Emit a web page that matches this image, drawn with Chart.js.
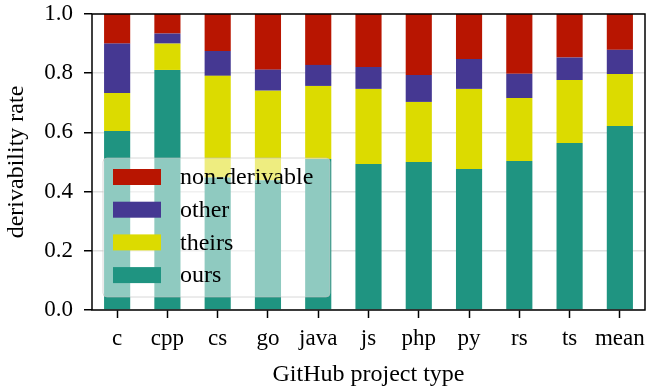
<!DOCTYPE html>
<html>
<head>
<meta charset="utf-8">
<script src="https://cdn.jsdelivr.net/npm/chart.js@4"></script>
<style>
  html, body { margin: 0; padding: 0; background: #ffffff; }
  #wrap { width: 647px; height: 389px; }
</style>
</head>
<body>
<div id="wrap"><canvas id="derivChart" width="647" height="389"></canvas></div>
<script>
// project types and stacked shares (bottom to top: ours, theirs, other, non-derivable)
const categories = ['c', 'cpp', 'cs', 'go', 'java', 'js', 'php', 'py', 'rs', 'ts', 'mean'];
const ours         = [0.605, 0.811, 0.448, 0.438, 0.510, 0.493, 0.500, 0.476, 0.503, 0.564, 0.622];
const theirs       = [0.128, 0.089, 0.343, 0.303, 0.247, 0.254, 0.203, 0.271, 0.213, 0.213, 0.175];
const other        = [0.167, 0.034, 0.084, 0.071, 0.071, 0.074, 0.091, 0.101, 0.082, 0.076, 0.082];
const nonDerivable = [0.100, 0.066, 0.125, 0.188, 0.172, 0.179, 0.206, 0.152, 0.202, 0.147, 0.121];
const yTicks = [0, 0.2, 0.4, 0.6, 0.8, 1.0];

const FONT = "'Liberation Serif', 'DejaVu Serif', serif";

// black box around the plot area (matplotlib spines)
const boxPlugin = {
    id: 'box',
    afterDatasetsDraw(chart) {
        const a = chart.chartArea;
        const ctx = chart.ctx;
        ctx.save();
        ctx.strokeStyle = '#000000';
        ctx.lineWidth = 1.5;
        ctx.strokeRect(a.left, a.top, a.right - a.left, a.bottom - a.top);
        ctx.restore();
    }
};

// legend drawn inside the plot, semi-transparent, reversed order
const legendPlugin = {
    id: 'innerLegend',
    afterDraw(chart) {
        const a = chart.chartArea;
        const ctx = chart.ctx;
        const x = a.left + 11, y = 158, w = 227, h = 139, r = 4;
        ctx.save();
        ctx.beginPath();
        ctx.roundRect(x, y, w, h, r);
        ctx.fillStyle = 'rgba(255,255,255,0.5)';
        ctx.fill();
        ctx.strokeStyle = 'rgba(190,190,190,0.6)';
        ctx.lineWidth = 1;
        ctx.stroke();

        const sets = chart.data.datasets.slice().reverse();
        ctx.font = '24px ' + FONT;
        ctx.textBaseline = 'middle';
        sets.forEach((ds, i) => {
            const cy = 177 + i * 32.7;
            ctx.fillStyle = ds.backgroundColor;
            ctx.fillRect(x + 10, cy - 8, 48, 16);
            ctx.fillStyle = '#000000';
            ctx.fillText(ds.label, x + 77, cy + 1);
        });
        ctx.restore();
    }
};

const ctx = document.getElementById('derivChart').getContext('2d');
new Chart(ctx, {
    type: 'bar',
    data: {
        labels: categories,
        datasets: [
            { label: 'ours', data: ours, backgroundColor: '#1f9481' },
            { label: 'theirs', data: theirs, backgroundColor: '#dcdb00' },
            { label: 'other', data: other, backgroundColor: '#453892' },
            { label: 'non-derivable', data: nonDerivable, backgroundColor: '#b81501' }
        ]
    },
    options: {
        responsive: false,
        animation: false,
        events: [],
        layout: { padding: { top: 14, right: 2, left: 0, bottom: 0 } },
        datasets: {
            bar: { barPercentage: 0.52, categoryPercentage: 1.0, borderWidth: 0 }
        },
        plugins: {
            legend: { display: false },
            tooltip: { enabled: false }
        },
        scales: {
            x: {
                stacked: true,
                afterFit(scale) {
                    scale.height = 79;
                    scale.paddingLeft = 0;
                    scale.paddingRight = 0;
                },
                grid: {
                    drawOnChartArea: false,
                    drawTicks: true,
                    tickLength: 8,
                    tickColor: '#000000',
                    tickWidth: 1.5,
                    offset: false
                },
                border: { display: false },
                ticks: {
                    color: '#000000',
                    padding: 7,
                    font: { family: FONT, size: 23 },
                    maxRotation: 0,
                    autoSkip: false
                },
                title: {
                    display: true,
                    text: 'GitHub project type',
                    color: '#000000',
                    font: { family: FONT, size: 24 },
                    padding: { top: 0, bottom: 0 }
                }
            },
            y: {
                stacked: true,
                min: 0,
                max: 1,
                afterFit(scale) {
                    scale.width = 92;
                    scale.paddingTop = 0;
                    scale.paddingBottom = 0;
                },
                afterBuildTicks(scale) { scale.ticks = yTicks.map(v => ({ value: v })); },
                grid: {
                    color: '#e0e0e0',
                    lineWidth: 1.5,
                    tickLength: 8,
                    tickColor: '#000000',
                    tickWidth: 1.5
                },
                border: { display: false },
                ticks: {
                    color: '#000000',
                    padding: 11,
                    font: { family: FONT, size: 23 },
                    callback: v => Number(v).toFixed(1)
                },
                title: {
                    display: true,
                    text: 'derivability rate',
                    color: '#000000',
                    font: { family: FONT, size: 24 },
                    padding: { top: 2, bottom: 0 }
                }
            }
        }
    },
    plugins: [boxPlugin, legendPlugin]
});
</script>
</body>
</html>
